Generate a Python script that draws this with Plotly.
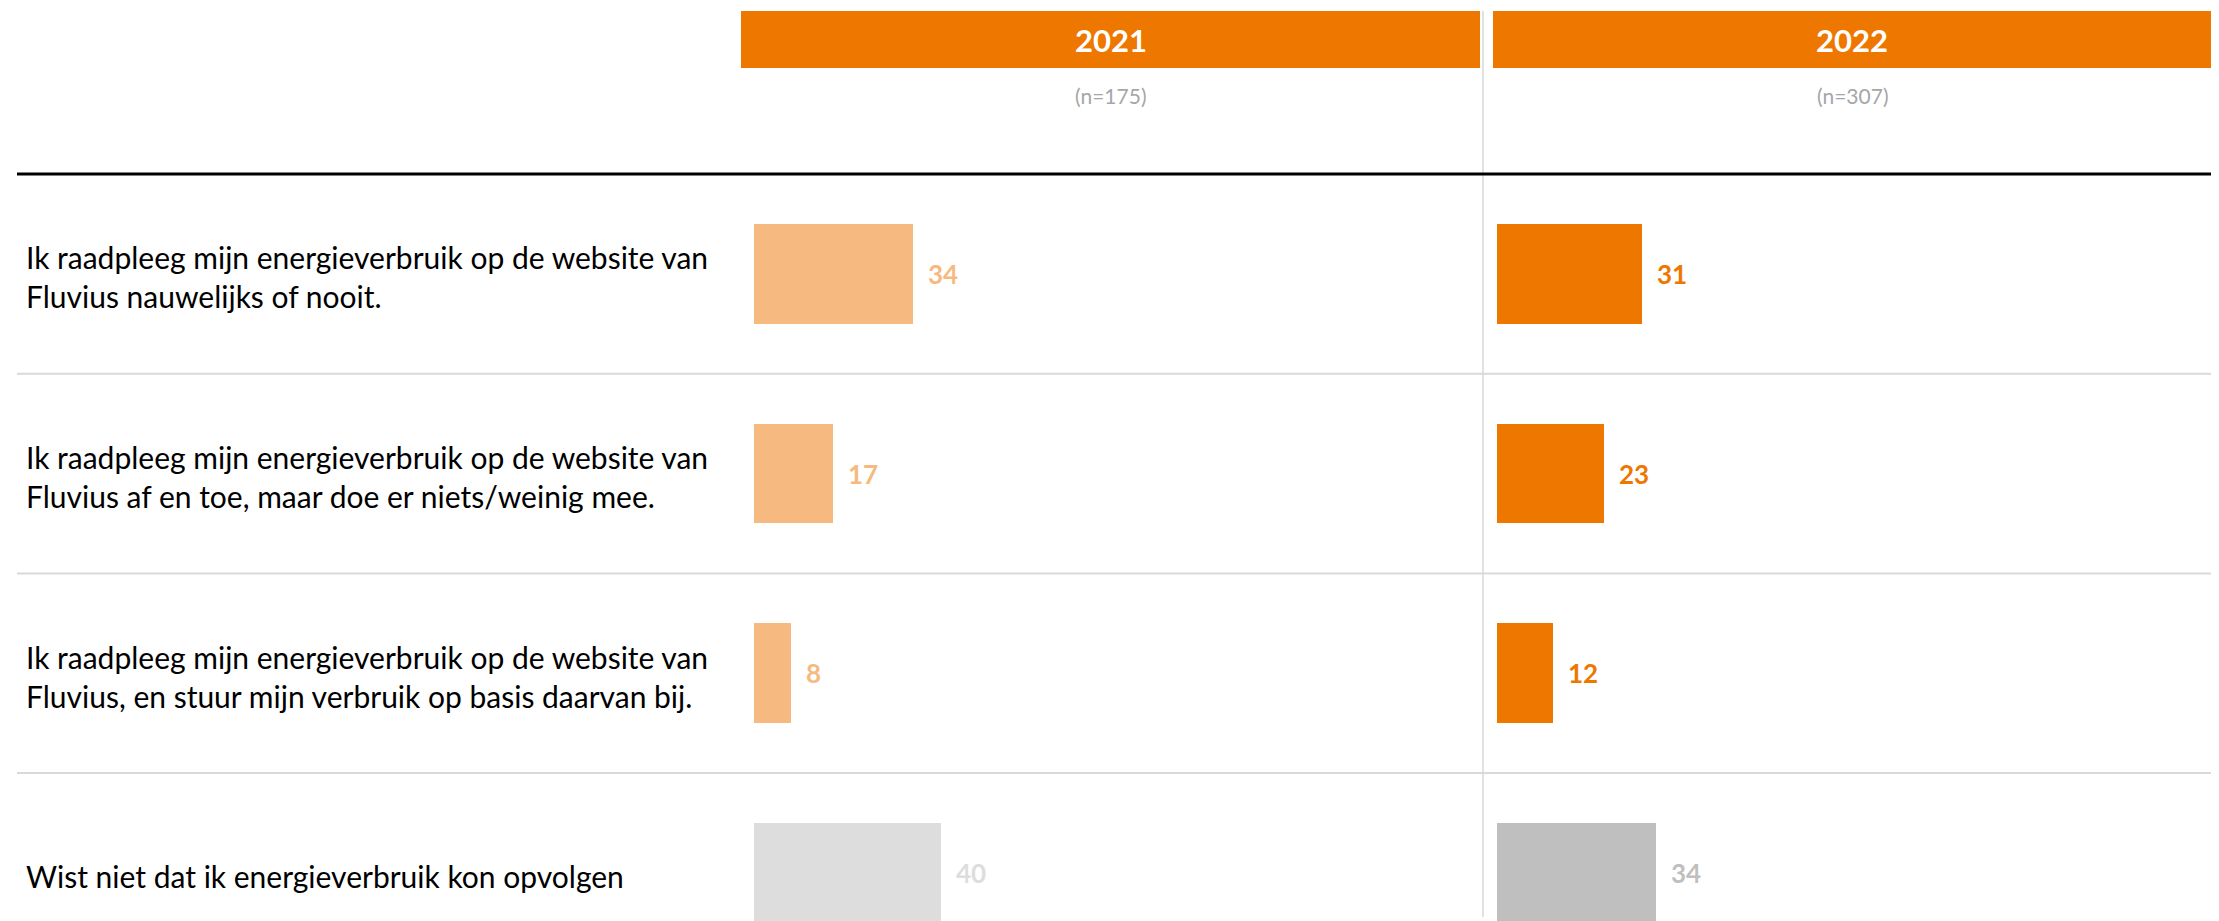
import plotly.graph_objects as go

# ---------------- data ----------------
categories = [
    "Ik raadpleeg mijn energieverbruik op de website van<br>Fluvius nauwelijks of nooit.",
    "Ik raadpleeg mijn energieverbruik op de website van<br>Fluvius af en toe, maar doe er niets/weinig mee.",
    "Ik raadpleeg mijn energieverbruik op de website van<br>Fluvius, en stuur mijn verbruik op basis daarvan bij.",
    "Wist niet dat ik energieverbruik kon opvolgen",
]
years = ["2021", "2022"]
sample_sizes = ["(n=175)", "(n=307)"]
values_2021 = [34, 17, 8, 40]
values_2022 = [31, 23, 12, 34]

# ---------------- styling / layout ----------------
VIEW_W, VIEW_H = 2219, 921
OFF = 8  # default page body margin
W, H = VIEW_W - 2 * OFF, VIEW_H - OFF
ORANGE = "#EE7700"
LIGHT_ORANGE = "#F6BA80"
colors_2021 = [LIGHT_ORANGE, LIGHT_ORANGE, LIGHT_ORANGE, "#DDDDDD"]
colors_2022 = [ORANGE, ORANGE, ORANGE, "#BFBFBF"]
FONT = "Lato"

def px_x(p):
    return (p - OFF) / W

def px_y(p):
    return 1 - (p - OFF) / H

PX_PER_UNIT = 4.67
ROW_PX = 199.7
TOP_PX = 174
RIGHT_PX = OFF + W
panels = [
    dict(left=741, right=1480, zero=754),
    dict(left=1493, right=RIGHT_PX, zero=1497),
]

fig = go.Figure()
rows = list(range(len(categories)))
series = [values_2021, values_2022]
series_colors = [colors_2021, colors_2022]

for k, (vals, cols) in enumerate(zip(series, series_colors)):
    ax = "x" if k == 0 else "x2"
    fig.add_trace(go.Bar(
        orientation="h", x=vals, y=rows, width=0.5,
        marker=dict(color=cols, line=dict(width=0)),
        xaxis=ax, yaxis="y", hoverinfo="skip", showlegend=False,
    ))
    for i, v in enumerate(vals):
        fig.add_annotation(
            x=v, y=i, xref=ax, yref="y", text=f"<b>{v}</b>",
            xanchor="left", yanchor="middle", xshift=13, showarrow=False,
            font=dict(family=FONT, size=26, color=cols[i]),
        )

layout_axes = {}
for k, p in enumerate(panels):
    lo = -(p["zero"] - p["left"]) / PX_PER_UNIT
    hi = (p["right"] - p["zero"]) / PX_PER_UNIT
    key = "xaxis" if k == 0 else "xaxis2"
    layout_axes[key] = dict(
        domain=[px_x(p["left"]), px_x(p["right"])], range=[lo, hi],
        showgrid=False, zeroline=False, showticklabels=False, ticks="",
        showline=False, anchor="y", fixedrange=True,
    )

y_bottom = -0.5 + (H + OFF - TOP_PX) / ROW_PX
fig.update_layout(
    width=W, height=H, margin=dict(l=0, r=0, t=0, b=0),
    paper_bgcolor="white", plot_bgcolor="rgba(0,0,0,0)",
    yaxis=dict(domain=[0, px_y(TOP_PX)], range=[y_bottom, -0.5],
               showgrid=False, zeroline=False, showticklabels=False,
               ticks="", showline=False, fixedrange=True),
    bargap=0, **layout_axes,
)

# category labels
for i, c in enumerate(categories):
    fig.add_annotation(
        x=px_x(24), y=i, xref="paper", yref="y", text=c,
        xanchor="left", yanchor="middle", align="left", showarrow=False,
        yshift=-3,
        font=dict(family=FONT, size=30, color="#000000"),
    )

# header boxes
for k, p in enumerate(panels):
    fig.add_shape(type="rect", xref="paper", yref="paper",
                  x0=px_x(p["left"]), x1=px_x(p["right"]),
                  y0=px_y(68), y1=px_y(11),
                  fillcolor=ORANGE, line=dict(width=0), layer="below")
    cx = px_x((p["left"] + p["right"]) / 2)
    fig.add_annotation(x=cx, y=px_y(40), xref="paper", yref="paper",
                       text=f"<b>{years[k]}</b>", showarrow=False,
                       xanchor="center", yanchor="middle",
                       font=dict(family=FONT, size=31, color="white"))
    fig.add_annotation(x=cx, y=px_y(96), xref="paper", yref="paper",
                       text=sample_sizes[k], showarrow=False,
                       xanchor="center", yanchor="middle",
                       font=dict(family=FONT, size=21, color="#A6A6A6"))

# vertical divider
fig.add_shape(type="line", xref="paper", yref="paper",
              x0=px_x(1483), x1=px_x(1483), y0=px_y(917), y1=px_y(11),
              line=dict(color="#D9D9D9", width=1.5), layer="below")

# black rule under header
fig.add_shape(type="line", xref="paper", yref="paper",
              x0=px_x(17), x1=1, y0=px_y(TOP_PX), y1=px_y(TOP_PX),
              line=dict(color="#000000", width=3))

# gray row separators
for i in range(1, len(categories)):
    yy = -0.5 + i
    fig.add_shape(type="line", xref="paper", yref="y",
                  x0=px_x(17), x1=1, y0=yy, y1=yy,
                  line=dict(color="#D9D9D9", width=2))

fig.write_html("out.html")
